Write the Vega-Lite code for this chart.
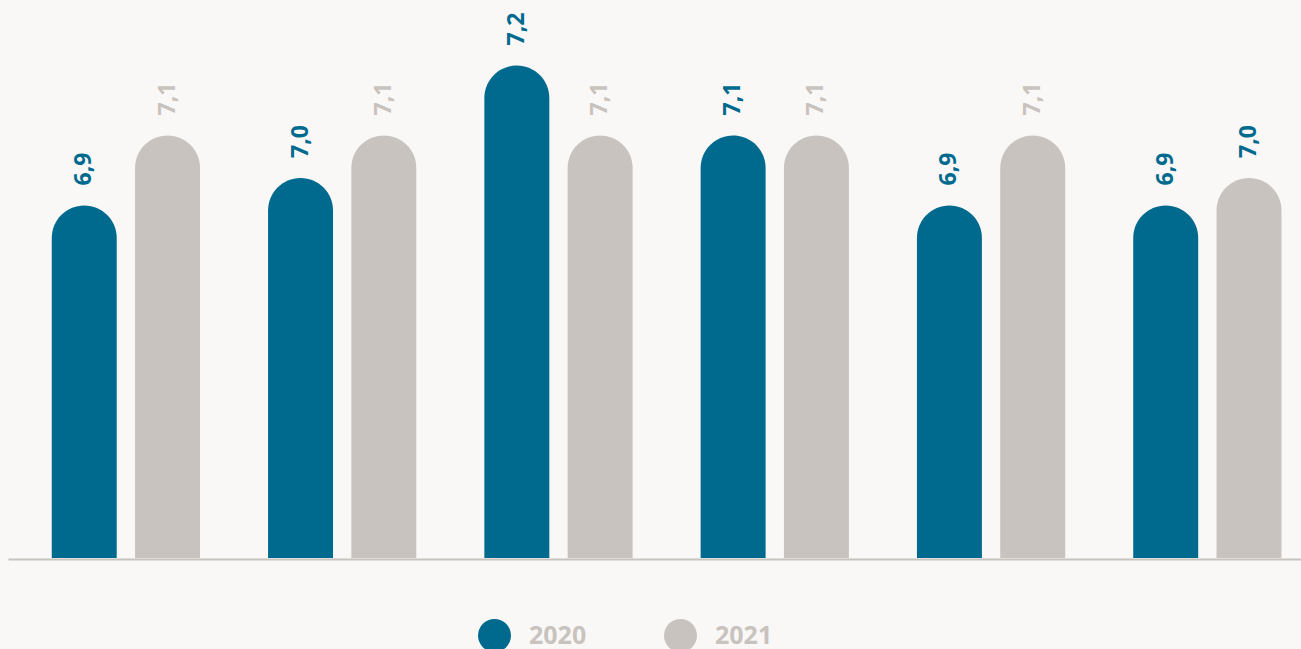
{
  "$schema": "https://vega.github.io/schema/vega-lite/v6.json",
  "width": 1293,
  "height": 550,
  "autosize": {"type": "none"},
  "padding": {"left": 8, "top": 8, "right": 0, "bottom": 91},
  "background": "#f9f8f6",
  "config": {"view": {"stroke": null}, "font": "Open Sans"},
  "data": {
    "values": [
      {"group": "G1", "year": "2020", "value": 6.94, "label": "6,9"},
      {"group": "G1", "year": "2021", "value": 7.08, "label": "7,1"},
      {"group": "G2", "year": "2020", "value": 6.995, "label": "7,0"},
      {"group": "G2", "year": "2021", "value": 7.08, "label": "7,1"},
      {"group": "G3", "year": "2020", "value": 7.22, "label": "7,2"},
      {"group": "G3", "year": "2021", "value": 7.08, "label": "7,1"},
      {"group": "G4", "year": "2020", "value": 7.08, "label": "7,1"},
      {"group": "G4", "year": "2021", "value": 7.08, "label": "7,1"},
      {"group": "G5", "year": "2020", "value": 6.94, "label": "6,9"},
      {"group": "G5", "year": "2021", "value": 7.08, "label": "7,1"},
      {"group": "G6", "year": "2020", "value": 6.94, "label": "6,9"},
      {"group": "G6", "year": "2021", "value": 6.995, "label": "7,0"}
    ]
  },
  "encoding": {
    "x": {
      "field": "group",
      "type": "nominal",
      "sort": null,
      "scale": {"paddingInner": 0.2, "paddingOuter": 0.089, "align": 0.815},
      "axis": {"title": null, "labels": false, "ticks": false, "grid": false, "domainColor": "#c8c3be", "domainWidth": 2, "offset": 1}
    },
    "xOffset": {
      "field": "year",
      "type": "nominal",
      "scale": {"paddingInner": 0.22, "paddingOuter": 0.1487}
    },
    "y": {
      "field": "value",
      "type": "quantitative",
      "scale": {"domain": [6.235, 7.335], "zero": false, "nice": false},
      "axis": null
    }
  },
  "layer": [
    {
      "mark": {"type": "bar", "cornerRadiusTopLeft": 32.5, "cornerRadiusTopRight": 32.5},
      "encoding": {
        "y2": {"datum": 6.235},
        "color": {
          "field": "year",
          "type": "nominal",
          "scale": {"domain": ["2020", "2021"], "range": ["#006a8e", "#c8c3be"]},
          "legend": {
            "title": null,
            "orient": "none",
            "legendX": 470,
            "legendY": 611,
            "direction": "horizontal",
            "symbolType": "circle",
            "symbolSize": 1089,
            "symbolStrokeWidth": 0,
            "symbolOpacity": 1,
            "labelFont": "Open Sans",
            "labelFontWeight": "bold",
            "labelFontSize": 25,
            "labelColor": "#c8c3be",
            "labelOffset": 18,
            "columnPadding": 77,
            "padding": 0
          }
        }
      }
    },
    {
      "mark": {"type": "text", "angle": 270, "align": "left", "baseline": "middle", "dx": 20, "font": "Open Sans", "fontWeight": "bold", "fontSize": 23},
      "encoding": {
        "text": {"field": "label"},
        "color": {
          "condition": {"test": "datum.group === 'G6' && datum.year === '2021'", "value": "#006a8e"},
          "field": "year",
          "type": "nominal",
          "legend": null
        }
      }
    }
  ]
}
